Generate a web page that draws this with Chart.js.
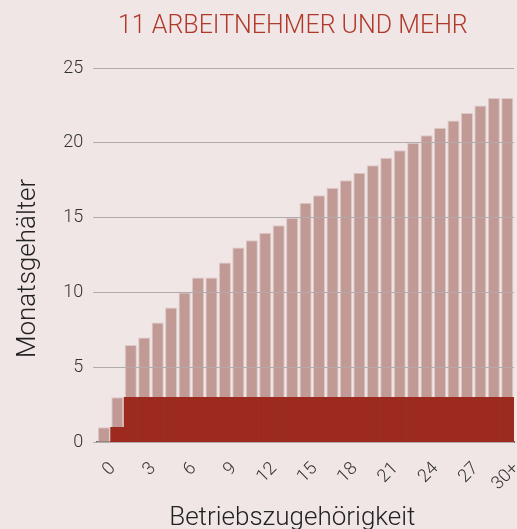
<!DOCTYPE html>
<html>
<head>
<meta charset="utf-8">
<script src="https://cdn.jsdelivr.net/npm/chart.js@4"></script>
<style>
  html, body { margin: 0; padding: 0; background: #f0e6e5; }
  #wrap { width: 517px; height: 529px; }
</style>
</head>
<body>
<div id="wrap"><canvas id="chart"></canvas></div>
<script>
// Betriebszugehörigkeit in Jahren
const categories = ['0','1','2','3','4','5','6','7','8','9','10','11','12','13','14','15',
  '16','17','18','19','20','21','22','23','24','25','26','27','28','29','30+'];

// dunkler Sockel
const baseValues = [0, 1, 3, 3, 3, 3, 3, 3, 3, 3, 3, 3, 3, 3, 3, 3,
  3, 3, 3, 3, 3, 3, 3, 3, 3, 3, 3, 3, 3, 3, 3];

// Gesamtwerte (Monatsgehälter)
const totalValues = [1, 3, 6.5, 7, 8, 9, 10, 11, 11, 12, 13, 13.5, 14, 14.5, 15, 16,
  16.5, 17, 17.5, 18, 18.5, 19, 19.5, 20, 20.5, 21, 21.5, 22, 22.5, 23, 23];

const yTicks = [0, 5, 10, 15, 20, 25];

const topValues = totalValues.map((t, i) => t - baseValues[i]);

const font = 'Roboto';
const sp = '\u2002\u2002';

const ctx = document.getElementById('chart').getContext('2d');
new Chart(ctx, {
  type: 'bar',
  data: {
    labels: categories,
    datasets: [
      {
        label: 'Sockel',
        data: baseValues,
        backgroundColor: '#9c2a1e',
        borderWidth: 0,
        barPercentage: 1,
        categoryPercentage: 1
      },
      {
        label: 'Zusatz',
        data: topValues,
        backgroundColor: '#c19a96',
        borderColor: '#dccac8',
        borderWidth: 1,
        borderSkipped: 'bottom',
        barPercentage: 0.9,
        categoryPercentage: 1
      }
    ]
  },
  options: {
    responsive: true,
    maintainAspectRatio: false,
    animation: false,
    layout: { padding: { top: 12, right: 3, left: 9, bottom: -5 } },
    plugins: {
      legend: { display: false },
      tooltip: { enabled: false },
      title: {
        display: true,
        text: '11 ARBEITNEHMER UND MEHR' + sp,
        color: '#b0392c',
        fullSize: false,
        font: { family: font, size: 25, weight: '300' },
        padding: { top: 0, bottom: 26 }
      }
    },
    scales: {
      x: {
        stacked: true,
        grid: { display: false },
        border: { display: true, color: '#6a6464', width: 2 },
        afterFit: axis => { axis.paddingRight = 0; },
        ticks: {
          autoSkip: false,
          maxRotation: 45,
          minRotation: 45,
          color: '#333',
          padding: 8,
          labelOffset: 9,
          font: { family: font, size: 18, weight: '300' },
          callback: (v, i) => (i % 3 === 0 ? categories[i] : '')
        },
        title: {
          display: true,
          text: 'Betriebszugehörigkeit' + sp,
          color: '#222',
          font: { family: font, size: 26, weight: '300' },
          padding: { top: 0, bottom: 0 }
        }
      },
      y: {
        stacked: true,
        min: 0,
        max: 25,
        afterBuildTicks: axis => { axis.ticks = yTicks.map(v => ({ value: v })); },
        grid: { color: '#b3abab', tickLength: 4, z: 1 },
        border: { display: false },
        ticks: {
          color: '#333',
          padding: 10,
          font: { family: font, size: 18, weight: '300' }
        },
        title: {
          display: true,
          text: 'Monatsgehälter' + sp,
          color: '#222',
          font: { family: font, size: 26, weight: '300' },
          padding: { bottom: 9 }
        }
      }
    }
  }
});
</script>
</body>
</html>
